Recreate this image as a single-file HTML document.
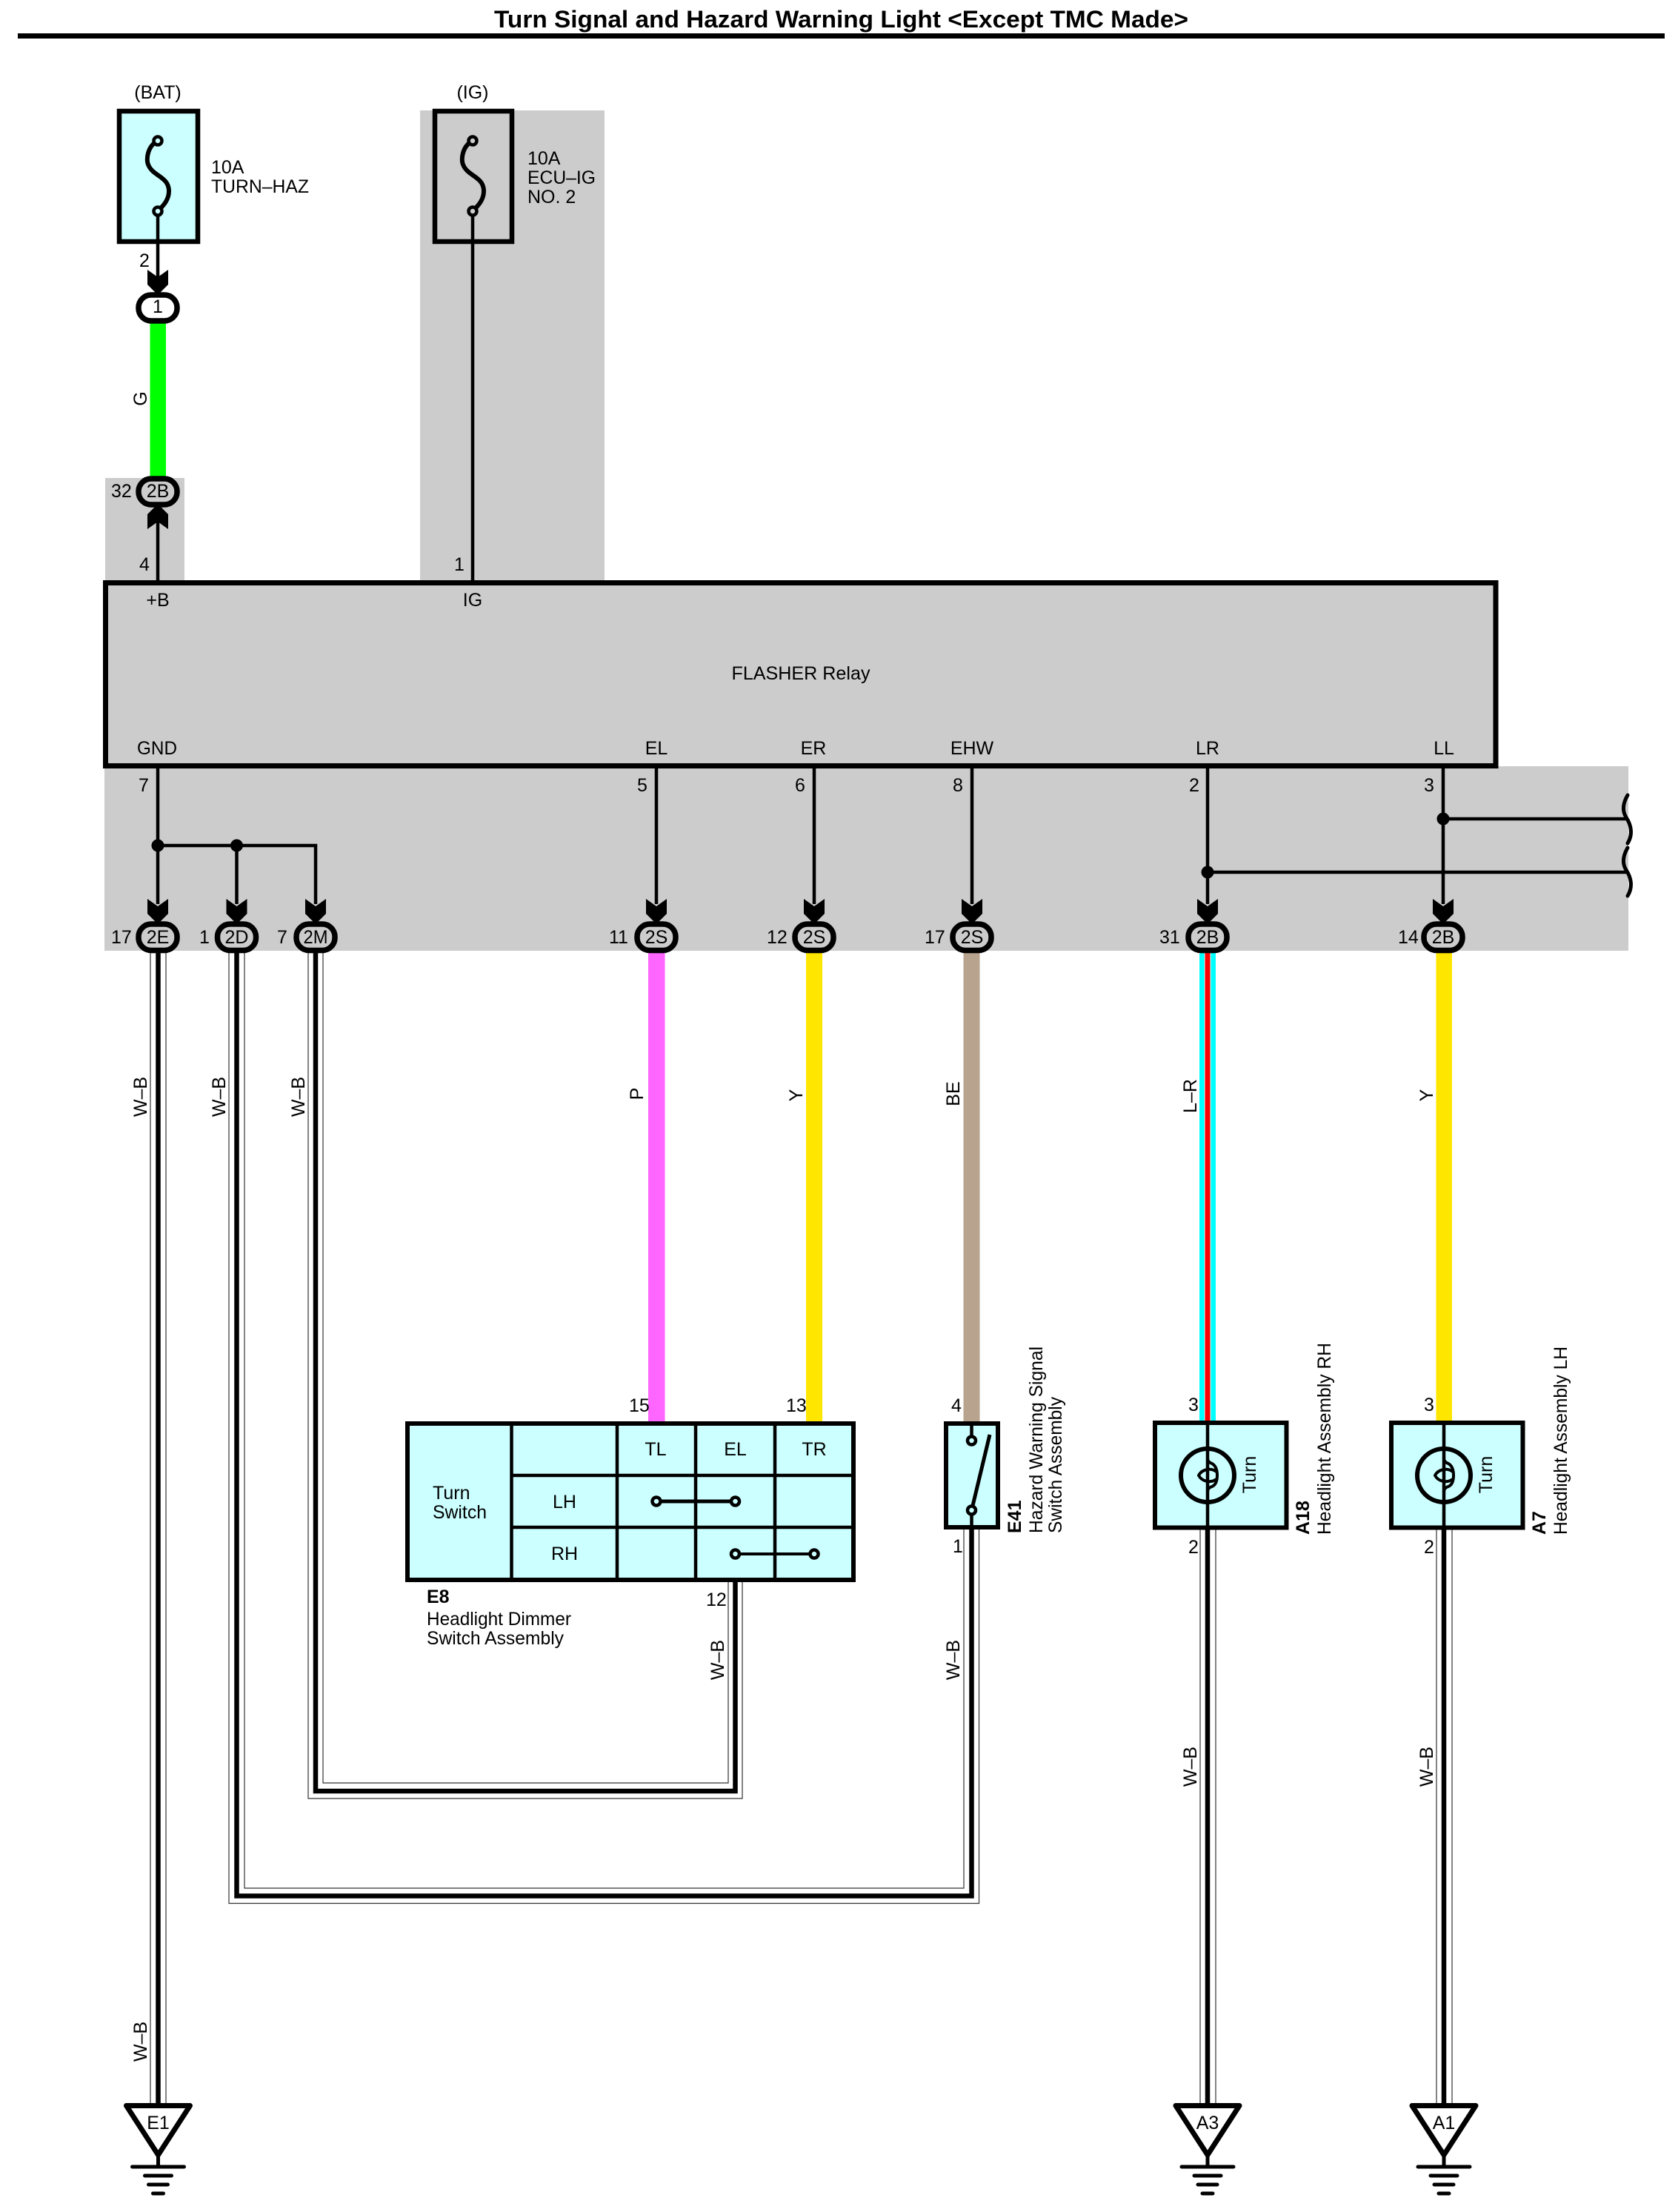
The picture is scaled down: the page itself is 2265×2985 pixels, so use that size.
<!DOCTYPE html>
<html><head><meta charset="utf-8"><title>Turn Signal and Hazard Warning Light</title>
<style>
html,body{margin:0;padding:0;background:#fff}
svg{display:block}
text{font-family:"Liberation Sans",sans-serif;font-size:25px;fill:#000}
.c{text-anchor:middle}
.b{font-weight:bold}
.w{fill:none;stroke:#000;stroke-width:4.5}
.k{fill:none;stroke:#000;stroke-width:6.5}
.t{fill:none;stroke:#333;stroke-width:1.2}
.f{fill:#fff;stroke:none}
.cn{stroke:#000;stroke-width:7.5;fill:#ccc}
.g{fill:#ccc;stroke:none}
.o{stroke:#000;stroke-width:6}
</style></head><body>
<svg xmlns="http://www.w3.org/2000/svg" width="2265" height="2985" viewBox="0 0 2265 2985">
<defs>
<polygon id="ad" points="-14,-30 0,-20 14,-30 14,-10 2,2 -2,2 -14,-10" fill="#000"/>
<g id="gnd" fill="none" stroke="#000" stroke-linecap="round">
<polygon points="-43,-82.5 43,-82.5 0,-16" fill="#fff" stroke-width="7" stroke-linejoin="round"/>
<path d="M0 -16V0" stroke-width="5"/>
<path d="M-35 0H35" stroke-width="5"/>
<path d="M-18 12H18M-13 24H13M-7 36H7" stroke-width="5"/>
</g>
<path id="fuse" d="M0 0C-14 7 -16 25 -13 32C-7 48 15 48 15 68C15 80 7 88 0 95" fill="none" stroke="#000" stroke-width="6"/>
<g id="bulb" fill="none" stroke="#000">
<circle cx="0" cy="0" r="36" stroke-width="6" fill="none"/>
<path d="M0 -23Q0 -18 6 -16Q13 -12 13 0Q13 12 6 15Q0 17 0 22" stroke-width="4"/>
<path d="M12 -5C4 -11 -8 -8 -12 0C-8 8 4 11 12 5" stroke-width="4"/>
</g>
</defs>
<rect width="2265" height="2985" fill="#fff"/>

<!-- title -->
<text x="667" y="37" class="b" style="font-size:32px" textLength="937" lengthAdjust="spacingAndGlyphs">Turn Signal and Hazard Warning Light &lt;Except TMC Made&gt;</text>
<rect x="24" y="45" width="2223" height="7" fill="#000"/>

<!-- gray backgrounds -->
<rect class="g" x="567" y="149" width="249" height="640"/>
<rect class="g" x="142" y="645" width="107" height="144"/>
<rect class="g" x="141" y="1034" width="2057" height="249"/>

<!-- relay -->
<rect x="142.5" y="786.5" width="1876.5" height="247" fill="#ccc" stroke="#000" stroke-width="7"/>
<text x="213" y="818" class="c">+B</text>
<text x="638" y="818" class="c">IG</text>
<text x="1081" y="917" class="c" textLength="187" lengthAdjust="spacingAndGlyphs">FLASHER Relay</text>
<text x="212" y="1018" class="c" textLength="54" lengthAdjust="spacingAndGlyphs">GND</text>
<text x="886" y="1018" class="c">EL</text>
<text x="1098" y="1018" class="c">ER</text>
<text x="1312" y="1018" class="c">EHW</text>
<text x="1630" y="1018" class="c">LR</text>
<text x="1949" y="1018" class="c">LL</text>

<!-- fuses -->
<text x="213" y="133" class="c">(BAT)</text>
<text x="638" y="133" class="c">(IG)</text>
<rect x="161" y="150" width="106" height="176" fill="#ccffff" stroke="#000" stroke-width="6.5"/>
<rect x="587" y="150" width="104" height="176" fill="#ccc" stroke="#000" stroke-width="6.5"/>
<use href="#fuse" x="213" y="190"/>
<use href="#fuse" x="638" y="190"/>
<path class="w" d="M213 285V786"/>
<path class="w" d="M638 285V786"/>
<circle cx="213" cy="190" r="5.5" fill="#ccffff" stroke="#000" stroke-width="4.5"/>
<circle cx="213" cy="285" r="5.5" fill="#ccffff" stroke="#000" stroke-width="4.5"/>
<circle cx="638" cy="190" r="5.5" fill="#ccc" stroke="#000" stroke-width="4.5"/>
<circle cx="638" cy="285" r="5.5" fill="#ccc" stroke="#000" stroke-width="4.5"/>
<text x="285" y="234">10A</text>
<text x="285" y="260" textLength="132" lengthAdjust="spacingAndGlyphs">TURN–HAZ</text>
<text x="712" y="222">10A</text>
<text x="712" y="248" textLength="92" lengthAdjust="spacingAndGlyphs">ECU–IG</text>
<text x="712" y="274">NO. 2</text>

<!-- G wire top -->
<rect x="202.5" y="430" width="21.5" height="216" fill="#00ff00"/>
<text x="188" y="360">2</text>
<use href="#ad" x="213" y="394"/>
<rect class="cn" x="187" y="398" width="52" height="35" rx="17" style="fill:#fff"/>
<text x="213" y="422" class="c">1</text>
<text transform="rotate(-90 198 538)" x="198" y="538" class="c">G</text>
<rect class="cn" x="187" y="646" width="52" height="35" rx="17"/>
<text x="213" y="671" class="c">2B</text>
<text x="150" y="671">32</text>
<use href="#ad" transform="translate(213 684) scale(1 -1)"/>
<text x="188" y="770">4</text>
<text x="613" y="770">1</text>

<!-- wires under relay -->
<path class="w" d="M213 1037V1220M319.5 1141V1220M213 1141H426V1220"/>
<path class="w" d="M886 1037V1220M1099 1037V1220M1312 1037V1220M1630 1037V1220M1948 1037V1220"/>
<path class="w" d="M1630 1177H2197M1948 1105H2197"/>
<circle cx="213" cy="1141" r="8.5"/>
<circle cx="319.5" cy="1141" r="8.5"/>
<circle cx="1630" cy="1177" r="8.5"/>
<circle cx="1948" cy="1105" r="8.5"/>
<path d="M2197 1073C2190 1085 2190 1095 2195 1103C2201 1112 2205 1125 2197 1138" fill="none" stroke="#000" stroke-width="5" stroke-linecap="round"/>
<path d="M2197 1144C2190 1156 2190 1166 2195 1174C2201 1183 2205 1196 2197 1209" fill="none" stroke="#000" stroke-width="5" stroke-linecap="round"/>

<!-- pin numbers above connectors -->
<text x="187" y="1068">7</text>
<text x="860" y="1068">5</text>
<text x="1073" y="1068">6</text>
<text x="1286" y="1068">8</text>
<text x="1605" y="1068">2</text>
<text x="1922" y="1068">3</text>

<!-- W-B harness: E1 -->
<path class="t" d="M203 1286V2840M224 1286V2840"/>
<path class="k" d="M213.5 1286V2840"/>
<!-- 2D harness -->
<path class="t" d="M309 1286V2568.5H1321.5V2064"/>
<path class="t" d="M330 1286V2548H1301V2064"/>
<path class="k" d="M319.5 1286V2558.5H1311.5V2064"/>
<!-- 2M harness -->
<path class="t" d="M416 1286V2427H1002V2134"/>
<path class="t" d="M436 1286V2406H983V2134"/>
<path class="k" d="M426 1286V2417H992.5V2134"/>

<!-- coloured wires -->
<rect x="875" y="1280" width="22.5" height="640" fill="#ff66ff"/>
<rect x="1088" y="1280" width="22" height="640" fill="#ffe600"/>
<rect x="1300.5" y="1280" width="22" height="640" fill="#b8a48e"/>
<rect x="1619" y="1280" width="22" height="640" fill="#00ffff"/>
<rect x="1626.5" y="1280" width="7" height="640" fill="#ff0000"/>
<rect x="1625.5" y="1280" width="1" height="640" fill="#ccffff"/>
<rect x="1633.5" y="1280" width="1" height="640" fill="#ccffff"/>
<rect x="1938.5" y="1280" width="21.5" height="640" fill="#ffe600"/>

<!-- connectors row -->
<use href="#ad" x="213" y="1243"/><use href="#ad" x="319.5" y="1243"/><use href="#ad" x="426" y="1243"/>
<use href="#ad" x="886" y="1243"/><use href="#ad" x="1099" y="1243"/><use href="#ad" x="1312" y="1243"/>
<use href="#ad" x="1630" y="1243"/><use href="#ad" x="1948" y="1243"/>
<rect class="cn" x="187" y="1247" width="52" height="35.5" rx="17"/>
<rect class="cn" x="293.5" y="1247" width="52" height="35.5" rx="17"/>
<rect class="cn" x="400" y="1247" width="52" height="35.5" rx="17"/>
<rect class="cn" x="860" y="1247" width="52" height="35.5" rx="17"/>
<rect class="cn" x="1073" y="1247" width="52" height="35.5" rx="17"/>
<rect class="cn" x="1286" y="1247" width="52" height="35.5" rx="17"/>
<rect class="cn" x="1604" y="1247" width="52" height="35.5" rx="17"/>
<rect class="cn" x="1922" y="1247" width="52" height="35.5" rx="17"/>
<text x="213" y="1273" class="c">2E</text>
<text x="319.5" y="1273" class="c">2D</text>
<text x="426" y="1273" class="c" textLength="33" lengthAdjust="spacingAndGlyphs">2M</text>
<text x="886" y="1273" class="c">2S</text>
<text x="1099" y="1273" class="c">2S</text>
<text x="1312" y="1273" class="c">2S</text>
<text x="1630" y="1273" class="c">2B</text>
<text x="1948" y="1273" class="c">2B</text>
<text x="150" y="1273">17</text>
<text x="269" y="1273">1</text>
<text x="374" y="1273">7</text>
<text x="822" y="1273">11</text>
<text x="1035" y="1273">12</text>
<text x="1248" y="1273">17</text>
<text x="1565" y="1273">31</text>
<text x="1887" y="1273">14</text>

<!-- wire labels -->
<text transform="rotate(-90 198 1480)" x="198" y="1480" class="c">W–B</text>
<text transform="rotate(-90 304 1480)" x="304" y="1480" class="c">W–B</text>
<text transform="rotate(-90 411 1480)" x="411" y="1480" class="c">W–B</text>
<text transform="rotate(-90 868 1476)" x="868" y="1476" class="c">P</text>
<text transform="rotate(-90 1083 1478)" x="1083" y="1478" class="c">Y</text>
<text transform="rotate(-90 1295 1476)" x="1295" y="1476" class="c">BE</text>
<text transform="rotate(-90 1615 1479)" x="1615" y="1479" class="c">L–R</text>
<text transform="rotate(-90 1934 1478)" x="1934" y="1478" class="c">Y</text>
<text transform="rotate(-90 198 2755)" x="198" y="2755" class="c">W–B</text>
<text transform="rotate(-90 977 2240)" x="977" y="2240" class="c">W–B</text>
<text transform="rotate(-90 1295 2240)" x="1295" y="2240" class="c">W–B</text>
<text transform="rotate(-90 1615 2384)" x="1615" y="2384" class="c">W–B</text>
<text transform="rotate(-90 1934 2384)" x="1934" y="2384" class="c">W–B</text>

<!-- E8 switch -->
<rect x="550" y="1921" width="602" height="211" fill="#ccffff" stroke="#000" stroke-width="6"/>
<path d="M690.5 1918V2134M833 1918V2134M939 1918V2134M1046 1918V2134M690 1991H1154M690 2061H1154" fill="none" stroke="#000" stroke-width="4.5"/>
<text x="584" y="2023">Turn</text>
<text x="584" y="2049" textLength="73" lengthAdjust="spacingAndGlyphs">Switch</text>
<text x="885" y="1964" class="c">TL</text>
<text x="992.5" y="1964" class="c">EL</text>
<text x="1099" y="1964" class="c">TR</text>
<text x="762" y="2035" class="c">LH</text>
<text x="762" y="2105" class="c">RH</text>
<path d="M886 2026H992.5" stroke="#000" stroke-width="5" fill="none"/>
<path d="M992.5 2097H1099" stroke="#000" stroke-width="4" fill="none"/>
<circle cx="886" cy="2026" r="5.5" fill="#ccffff" stroke="#000" stroke-width="4.5"/>
<circle cx="992.5" cy="2026" r="5.5" fill="#ccffff" stroke="#000" stroke-width="4.5"/>
<circle cx="992.5" cy="2097" r="5.5" fill="#ccffff" stroke="#000" stroke-width="4.5"/>
<circle cx="1099" cy="2097" r="5.5" fill="#ccffff" stroke="#000" stroke-width="4.5"/>
<text x="849" y="1905">15</text>
<text x="1061" y="1905">13</text>
<text x="953" y="2167">12</text>
<text x="576" y="2163" class="b">E8</text>
<text x="576" y="2193" textLength="195" lengthAdjust="spacingAndGlyphs">Headlight Dimmer</text>
<text x="576" y="2219" textLength="185" lengthAdjust="spacingAndGlyphs">Switch Assembly</text>

<!-- E41 -->
<rect x="1277" y="1921" width="70" height="140" fill="#ccffff" stroke="#000" stroke-width="6"/>
<path d="M1311.5 1920V1944M1311.5 2038V2062" fill="none" stroke="#000" stroke-width="4.5"/>
<path d="M1312 2036L1336 1936" fill="none" stroke="#000" stroke-width="5"/>
<circle cx="1311.5" cy="1944" r="5.5" fill="#ccffff" stroke="#000" stroke-width="4.5"/>
<circle cx="1311.5" cy="2038" r="5.5" fill="#ccffff" stroke="#000" stroke-width="4.5"/>
<text x="1284" y="1905">4</text>
<text x="1286" y="2095">1</text>
<text transform="rotate(-90 1378 2069)" x="1378" y="2069" class="b">E41</text>
<text transform="rotate(-90 1407 2069)" x="1407" y="2069" textLength="252" lengthAdjust="spacingAndGlyphs">Hazard Warning Signal</text>
<text transform="rotate(-90 1433 2069)" x="1433" y="2069" textLength="184" lengthAdjust="spacingAndGlyphs">Switch Assembly</text>

<!-- A18 -->
<rect x="1559" y="1920" width="177.5" height="141.5" fill="#ccffff" stroke="#000" stroke-width="6"/>
<path class="w" d="M1630 1920V2062"/>
<use href="#bulb" x="1630" y="1991"/>
<text transform="rotate(-90 1695 1990)" x="1695" y="1990" class="c">Turn</text>
<text x="1604" y="1904">3</text>
<text x="1604" y="2096">2</text>
<text transform="rotate(-90 1767 2071)" x="1767" y="2071" class="b">A18</text>
<text transform="rotate(-90 1796 2071)" x="1796" y="2071" textLength="259" lengthAdjust="spacingAndGlyphs">Headlight Assembly RH</text>

<!-- A7 -->
<rect x="1878" y="1920" width="177.5" height="141.5" fill="#ccffff" stroke="#000" stroke-width="6"/>
<path class="w" d="M1949 1920V2062"/>
<use href="#bulb" x="1949" y="1991"/>
<text transform="rotate(-90 2014 1990)" x="2014" y="1990" class="c">Turn</text>
<text x="1922" y="1904">3</text>
<text x="1922" y="2096">2</text>
<text transform="rotate(-90 2086 2071)" x="2086" y="2071" class="b">A7</text>
<text transform="rotate(-90 2115 2071)" x="2115" y="2071" textLength="254" lengthAdjust="spacingAndGlyphs">Headlight Assembly LH</text>

<!-- wires to grounds -->
<path class="t" d="M1620 2064V2840M1641 2064V2840M1939 2064V2840M1960 2064V2840"/>
<path class="k" d="M1630 2064V2840M1949 2064V2840"/>

<!-- grounds -->
<use href="#gnd" x="213.5" y="2924"/>
<use href="#gnd" x="1630" y="2924"/>
<use href="#gnd" x="1949" y="2924"/>
<text x="213.5" y="2873" class="c">E1</text>
<text x="1630" y="2873" class="c">A3</text>
<text x="1949" y="2873" class="c">A1</text>
</svg>
</body></html>
